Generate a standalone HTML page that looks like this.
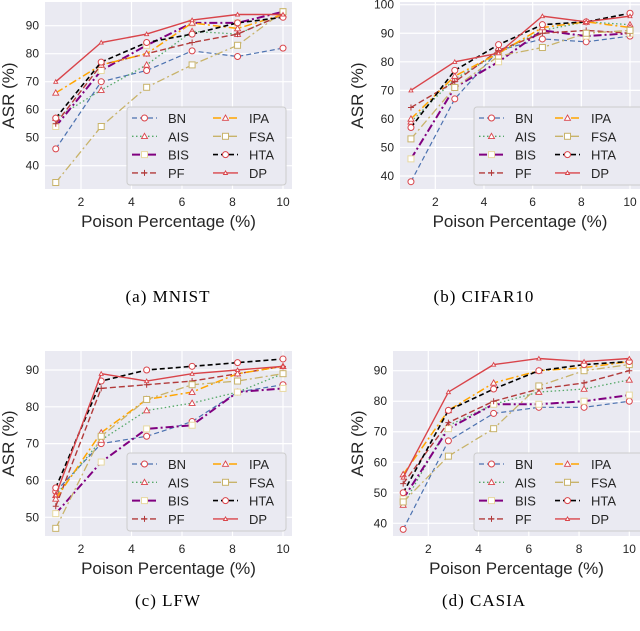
<!DOCTYPE html>
<html><head><meta charset="utf-8"><style>
body{margin:0;background:#fff;width:640px;height:626px;overflow:hidden}
svg text{font-family:"Liberation Sans",sans-serif;fill:#262626}
.cap{font-family:"Liberation Serif",serif;font-size:17px;fill:#000;letter-spacing:1px}
</style></head><body>
<svg id="chart" width="640" height="626" xmlns="http://www.w3.org/2000/svg"></svg>
<script>
const xValues=[1,2.8,4.6,6.4,8.2,10];
const seriesNames=["BN","AIS","BIS","PF","IPA","FSA","HTA","DP"];
const mnistValues=[[46,70,74,81,79,82],[57,67,76,88,87,94],[54,74,83,91,91,95],[55,76,80,84,87,94],[66,76,80,91,89,94],[34,54,68,76,83,95],[57,77,84,87,91,93],[70,84,87,92,94,94]];
const cifarValues=[[38,67,84,88,87,89],[59,74,83,91,94,93],[46,71,80,91,89,90],[64,73,84,90,91,90],[60,75,83,92,94,92],[53,71,82,85,90,91],[57,77,86,93,94,97],[70,80,83,96,94,96]];
const lfwValues=[[57,70,72,76,84,86],[56,71,79,81,84,89],[51,65,74,75,84,85],[53,85,86,87,89,91],[55,73,82,84,89,91],[47,72,82,86,87,89],[58,87,90,91,92,93],[56,89,87,89,90,91]];
const casiaValues=[[38,67,76,78,78,80],[46,72,79,83,84,87],[48,71,79,79,80,82],[53,73,80,84,86,90],[56,77,86,90,91,93],[47,62,71,85,90,92],[50,77,84,90,92,93],[55,83,92,94,93,94]];
const xTicks=[2,4,6,8,10];
const yTicksA=[40,50,60,70,80,90];
const yTicksB=[40,50,60,70,80,90,100];
const yTicksC=[50,60,70,80,90];
const yTicksD=[40,50,60,70,80,90];

const styles=[
 {c:"#4c72b0",d:"5,3",w:1.2,m:"circle",mc:"#d9444a"},
 {c:"#55a868",d:"1.5,2.5",w:1.3,m:"tri",mc:"#d9444a"},
 {c:"#800080",d:"8,3,2,3",w:2,m:"square",mc:"#e8d9a0"},
 {c:"#b23a3a",d:"6,3",w:1.4,m:"plus",mc:"#b23a3a"},
 {c:"#ffa500",d:"8,3,2,3",w:1.5,m:"tri",mc:"#d9444a"},
 {c:"#c8b36a",d:"8,3,2,3",w:1.3,m:"square",mc:"#c8b36a"},
 {c:"#000",d:"5,3",w:1.6,m:"circle",mc:"#d9444a"},
 {c:"#d9444a",d:"",w:1.4,m:"smalltri",mc:"#d9444a"}];
const NS="http://www.w3.org/2000/svg";
const svg=document.getElementById('chart');
function el(t,a,p){const e=document.createElementNS(NS,t);for(const k in a)e.setAttribute(k,a[k]);(p||svg).appendChild(e);return e;}
function marker(g,type,x,y,col){
 let e;
 if(type==="circle")e=el("circle",{cx:x,cy:y,r:3,fill:"#fff",stroke:col,"stroke-width":1},g);
 else if(type==="tri")e=el("path",{d:`M${x},${y-3}L${x+3},${y+2.3}L${x-3},${y+2.3}Z`,fill:"#fff",stroke:col,"stroke-width":0.9},g);
 else if(type==="smalltri")e=el("path",{d:`M${x},${y-2}L${x+2},${y+1.6}L${x-2},${y+1.6}Z`,fill:"#fff",stroke:col,"stroke-width":0.9},g);
 else if(type==="square")e=el("rect",{x:x-3,y:y-3,width:6,height:6,fill:"#fff",stroke:col,"stroke-width":1},g);
 else e=el("path",{d:`M${x-3},${y}H${x+3}M${x},${y-3}V${y+3}`,stroke:col,"stroke-width":1},g);
 
 
}
function panel(p){
 const g=el("g",{});
 
 
 const sx=v=>p.x2px+(v-2)*(p.x10px-p.x2px)/8;
 const sy=v=>p.yApx+(v-p.yA)*(p.yBpx-p.yApx)/(p.yB-p.yA);
 const bg=el("rect",{x:p.l,y:p.t,width:p.r-p.l,height:p.b-p.t,fill:"#eaeaf2"},g);
 
 xTicks.forEach(v=>{const X=sx(v);
  const gl=el("line",{x1:X,x2:X,y1:p.t,y2:p.b,stroke:"#fff","stroke-width":1.2},g);
  
  const t=el("text",{x:X,y:p.b+17,"text-anchor":"middle","font-size":12},g);t.textContent=v;
  });
 p.yTicks.forEach(v=>{const Y=sy(v);
  const gl=el("line",{x1:p.l,x2:p.r,y1:Y,y2:Y,stroke:"#fff","stroke-width":1.2},g);
  
  const t=el("text",{x:p.l-6,y:Y+4,"text-anchor":"end","font-size":12},g);t.textContent=v;
  });
 const xl=el("text",{x:(p.l+p.r)/2,y:p.b+38,"text-anchor":"middle","font-size":17},g);xl.textContent="Poison Percentage (%)";
 
 const yl=el("text",{x:0,y:0,"text-anchor":"middle","font-size":17,transform:`translate(${p.ylx},${(p.t+p.b)/2}) rotate(-90)`},g);yl.textContent="ASR (%)";
 
 p.data.forEach((vals,i)=>{const s=styles[i];
  const pl=el("polyline",{points:vals.map((v,j)=>sx(xValues[j])+","+sy(v)).join(" "),fill:"none",stroke:s.c,"stroke-width":s.w,"stroke-dasharray":s.d},g);
  
  vals.forEach((v,j)=>marker(g,s.m,sx(xValues[j]),sy(v),s.mc));});
 const lg=el("g",{},g);
 
 el("rect",{x:p.lx,y:p.ly,width:p.lw,height:78,rx:3,fill:"#eaeaf2",stroke:"#ccc","stroke-width":1},lg);
 seriesNames.forEach((n,i)=>{const s=styles[i];const col=i<4?0:1,row=i%4;
  const x0=p.lx+5+col*p.colw,y0=p.ly+11+row*18.3;
  const e=el("g",{},lg);
  
  el("line",{x1:x0,x2:x0+25,y1:y0,y2:y0,stroke:s.c,"stroke-width":s.w,"stroke-dasharray":s.d},e);
  marker(e,s.m,x0+12.5,y0,s.mc);
  const t=el("text",{x:x0+36,y:y0+5,"font-size":13},e);t.textContent=n;});
 const c=el("text",{x:p.capx,y:p.capy,"text-anchor":"middle",class:"cap"},g);c.textContent=p.cap;
 
}
panel({name:"panel-mnist",data:mnistValues,yTicks:yTicksA,l:45,r:292,t:2,b:189,x2px:81,x10px:283,yA:90,yApx:25.7,yB:40,yBpx:165.7,ylx:14,lx:127,ly:107,lw:159,colw:81,capx:168,capy:302,cap:"(a)  MNIST"});
panel({name:"panel-cifar10",data:cifarValues,yTicks:yTicksB,l:400,r:640,t:2,b:189,x2px:435.3,x10px:630,yA:100,yApx:4.7,yB:40,yBpx:176,ylx:363,lx:474,ly:107,lw:170,colw:76,capx:484,capy:302,cap:"(b)  CIFAR10"});
panel({name:"panel-lfw",data:lfwValues,yTicks:yTicksC,l:45,r:292,t:351,b:536,x2px:81,x10px:283,yA:90,yApx:370,yB:50,yBpx:517.3,ylx:14,lx:127,ly:453,lw:159,colw:81,capx:168,capy:606,cap:"(c)  LFW"});
panel({name:"panel-casia",data:casiaValues,yTicks:yTicksD,l:393,r:640,t:351,b:536,x2px:428.3,x10px:629.3,yA:90,yApx:370.7,yB:40,yBpx:523.3,ylx:363,lx:474,ly:453,lw:170,colw:76,capx:484,capy:606,cap:"(d)  CASIA"});
</script>
</body></html>
